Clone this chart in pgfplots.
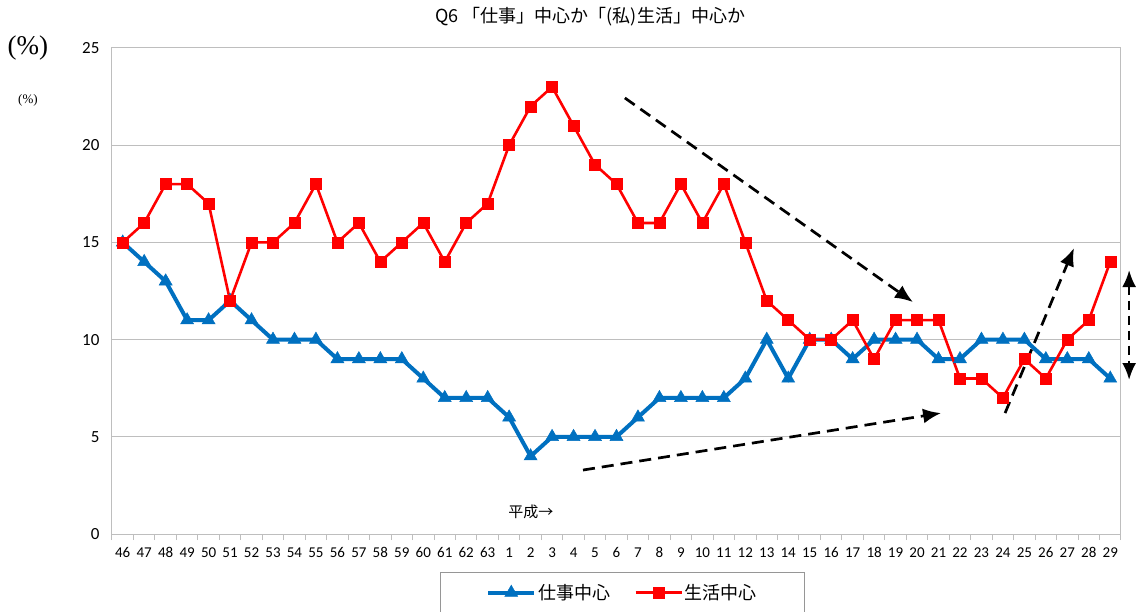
\documentclass[border=0pt]{standalone}
\usepackage{pgfplots}
\pgfplotsset{compat=1.18}
\usepackage{pgfplotstable}
\usetikzlibrary{arrows.meta}
\usepackage{fontspec}
\setmainfont{Carlito}
\newfontfamily\jp{Noto Sans CJK JP}
\newfontfamily\lserif{Liberation Serif}
\definecolor{wblue}{RGB}{0,112,192}
\definecolor{gridc}{RGB}{190,190,190}
\definecolor{legc}{RGB}{150,150,150}

\pgfplotstableread{
i work life
0 15 15
1 14 16
2 13 18
3 11 18
4 11 17
5 12 12
6 11 15
7 10 15
8 10 16
9 10 18
10 9 15
11 9 16
12 9 14
13 9 15
14 8 16
15 7 14
16 7 16
17 7 17
18 6 20
19 4 22
20 5 23
21 5 21
22 5 19
23 5 18
24 6 16
25 7 16
26 7 18
27 7 16
28 7 18
29 8 15
30 10 12
31 8 11
32 10 10
33 10 10
34 9 11
35 10 9
36 10 11
37 10 11
38 9 11
39 9 8
40 10 8
41 10 7
42 10 9
43 9 8
44 9 10
45 9 11
46 8 14
}\data

\begin{document}
\begin{tikzpicture}
\begin{axis}[
  scale only axis,
  width=1009pt, height=486pt,
  xmin=-0.5, xmax=46.5, ymin=0, ymax=25,
  ytick={0,5,...,25},
  ymajorgrids,
  grid style={gridc, line width=1pt},
  axis line style={gridc, line width=1pt},
  xtick={0,...,46},
  xticklabels={46,47,48,49,50,51,52,53,54,55,56,57,58,59,60,61,62,63,1,2,3,4,5,6,7,8,9,10,11,12,13,14,15,16,17,18,19,20,21,22,23,24,25,26,27,28,29},
  minor xtick={-0.5,0.5,...,46.5},
  tick align=outside,
  tick pos=left,
  major tick length=0pt,
  minor tick length=6pt,
  minor tick style={gridc, line width=1pt},
  ytick style={draw=none},
  /pgf/number format/assume math mode=true,
  xticklabel style={font=\fontsize{15}{15}\selectfont, yshift=-10pt},
  yticklabel style={font=\fontsize{17}{17}\selectfont, xshift=-9pt},
  clip=false,
  legend columns=2,
  legend style={at={(0.506,-0.078)}, anchor=north, draw=legc, line width=1pt,
    font=\jp\fontsize{18}{18}\selectfont, inner xsep=46pt, inner ysep=10pt,
    /tikz/every even column/.append style={column sep=22pt}},
  legend image code/.code={\draw[mark repeat=2,mark phase=2,#1] plot coordinates {(0pt,0pt) (23pt,0pt) (46pt,0pt)};},
]
\addplot[wblue, line width=4pt, mark=triangle*, mark size=7.5pt, mark options={line width=0.5pt}] table[x=i,y=work]{\data};
\addlegendentry{仕事中心}
\addplot[red, line width=2.6pt, mark=square*, mark size=5.5pt, mark options={line width=0.5pt}] table[x=i,y=life]{\data};
\addlegendentry{生活中心}

\draw[line width=2.7pt, dash pattern=on 12pt off 7pt, -{Latex[length=18pt,width=15pt]}] (axis cs:23.39,22.43) -- (axis cs:36.81,11.93);
\draw[line width=2.7pt, dash pattern=on 12pt off 7pt, -{Latex[length=18pt,width=15pt]}] (axis cs:21.44,3.29) -- (axis cs:38.12,6.22);
\draw[line width=2.7pt, dash pattern=on 12pt off 7pt, -{Latex[length=18pt,width=15pt]}] (axis cs:41.1,6.22) -- (axis cs:44.31,14.71);
\draw[line width=2.7pt, dash pattern=on 9pt off 6pt, {Latex[length=17pt,width=14pt]}-{Latex[length=17pt,width=14pt]}] (axis cs:46.88,13.58) -- (axis cs:46.88,7.92);

\node[font=\jp\fontsize{15}{15}\selectfont] at (axis cs:19.01,1.13) {平成→};
\node[font=\jp\fontsize{18}{18}\selectfont] at (axis description cs:0.474,1.064) {Q6 「仕事」中心か「(私)生活」中心か};
\node[font=\lserif\fontsize{27}{27}\selectfont] at (axis description cs:-0.0833,1.0) {(\%)};
\node[font=\lserif\fontsize{13}{13}\selectfont] at (axis description cs:-0.0833,0.893) {(\%)};
\end{axis}
\pgfresetboundingbox
\path[use as bounding box] (-112pt,-77pt) rectangle (1025pt,534pt);
\end{tikzpicture}
\end{document}
